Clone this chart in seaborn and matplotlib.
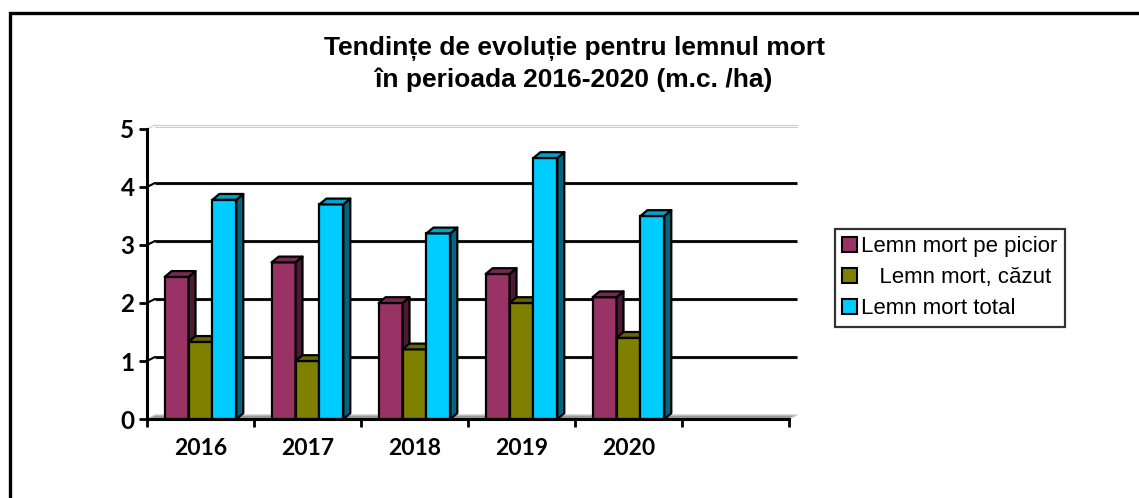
import numpy as np
import pandas as pd
import matplotlib
matplotlib.use("Agg")
import matplotlib.pyplot as plt
from matplotlib.patches import Polygon, Rectangle, Patch
import seaborn as sns

# ---- data ----
years = ["2016", "2017", "2018", "2019", "2020"]
series_names = ["Lemn mort pe picior", "   Lemn mort, căzut", "Lemn mort total"]
picior = [2.45, 2.7, 2.0, 2.5, 2.1]
cazut = [1.33, 1.0, 1.2, 2.0, 1.4]
total = [3.78, 3.7, 3.2, 4.5, 3.5]
yticks = [0, 1, 2, 3, 4, 5]
title = "Tendințe de evoluție pentru lemnul mort\nîn perioada 2016-2020 (m.c. /ha)"

front_colors = ["#993366", "#808000", "#00CCFF"]
top_colors = ["#7a2852", "#666600", "#00a3cc"]
side_colors = ["#4d1a33", "#404000", "#006680"]

df = pd.DataFrame({
    "year": years * 3,
    "series": sum([[s] * len(years) for s in series_names], []),
    "value": picior + cazut + total,
})

sns.set_style("white")
plt.rcParams["font.family"] = ["Liberation Sans", "DejaVu Sans"]
plt.rcParams["text.color"] = "black"
plt.rcParams["xtick.color"] = "black"
plt.rcParams["ytick.color"] = "black"
plt.rcParams["axes.labelcolor"] = "black"

W, H = 1139, 498
fig = plt.figure(figsize=(W / 100, H / 100), dpi=100)
ax = fig.add_axes([147 / W, 1 - 419 / H, (789 - 147) / W, (419 - 129) / H])

sns.barplot(data=df, x="year", y="value", hue="series", order=years,
            hue_order=series_names, palette=front_colors, width=0.67,
            edgecolor="black", linewidth=1.6, saturation=1, legend=False, ax=ax)

ax.set_xlim(-0.5, 5.5)
ax.set_ylim(0, 5)

# depth of 3D effect in data units
dx, dy = 0.065, 0.10
wdx, wdy = 0.075, 0.07

# 3D faces on bars
for i, cont in enumerate(ax.containers):
    z = 3 + i
    for bar in cont.patches:
        bar.set_zorder(z)
        x0 = bar.get_x()
        w = bar.get_width()
        h = bar.get_height()
        side = Polygon([(x0 + w, 0), (x0 + w + dx, dy), (x0 + w + dx, h + dy), (x0 + w, h)],
                       closed=True, facecolor=side_colors[i], edgecolor="black",
                       linewidth=1.6, zorder=z, joinstyle="round")
        top = Polygon([(x0, h), (x0 + dx, h + dy), (x0 + w + dx, h + dy), (x0 + w, h)],
                      closed=True, facecolor=top_colors[i], edgecolor="black",
                      linewidth=1.6, zorder=z, joinstyle="round")
        ax.add_patch(side)
        ax.add_patch(top)

# back wall gridlines
x_left, x_right = -0.5, 5.5
for v in yticks[1:-1]:
    ax.plot([x_left + wdx, x_right + wdx], [v + wdy, v + wdy], color="black",
            lw=2.0, zorder=1, clip_on=False, solid_capstyle="butt")
    ax.plot([x_left + wdx, x_right + wdx], [v + wdy - 0.025, v + wdy - 0.025], color="#bbbbbb",
            lw=1.0, zorder=0.9, clip_on=False, solid_capstyle="butt")
    ax.plot([x_left, x_left + wdx], [v, v + wdy], color="black", lw=1.5,
            zorder=1, clip_on=False)
# top edge of wall (light gray double line)
for off in (0.0, -0.035):
    ax.plot([x_left + wdx, x_right + wdx], [5 + wdy + off, 5 + wdy + off], color="#cccccc",
            lw=0.8, zorder=1, clip_on=False)
ax.plot([x_left, x_left + wdx], [5, 5 + wdy], color="#cccccc", lw=0.8, zorder=1, clip_on=False)

# floor
floor = Polygon([(x_left, 0), (x_left + wdx, wdy), (x_right + wdx, wdy), (x_right, 0)],
                closed=True, facecolor="#9a9a9a", edgecolor="#cfcfcf", linewidth=1.0,
                zorder=1.5, clip_on=False)
ax.add_patch(floor)

# axes styling
for s in ["top", "right"]:
    ax.spines[s].set_visible(False)
for s in ["left", "bottom"]:
    ax.spines[s].set_color("black")
    ax.spines[s].set_linewidth(2.2)
    ax.spines[s].set_zorder(10)

ax.set_yticks(yticks)
ax.set_yticklabels([str(v) for v in yticks])
ax.tick_params(axis="y", direction="out", length=6, width=2, color="black",
               labelsize=17.5, pad=3, left=True, labelcolor="black")
for lab in ax.get_yticklabels():
    lab.set_fontfamily(["Lato", "DejaVu Sans"])
    lab.set_fontweight("bold")

ax.set_xticks(np.arange(-0.5, 6.0, 1.0))
ax.set_xticklabels([])
ax.set_xticks(np.arange(len(years)), minor=True)
ax.set_xticklabels(years, minor=True)
ax.tick_params(axis="x", which="major", direction="out", length=6, width=2,
               color="black", bottom=True)
ax.tick_params(axis="x", which="minor", length=0, pad=14, labelsize=16.5, labelcolor="black")
for lab in ax.get_xticklabels(minor=True):
    lab.set_fontfamily(["Lato", "DejaVu Sans"])
    lab.set_fontweight("bold")

ax.set_xlabel("")
ax.set_ylabel("")
ax.grid(False)

# title
fig.text(574 / W, 1 - 64 / H, title, ha="center", va="center", fontsize=19,
         fontweight="bold", linespacing=1.3, color="black")

# legend
handles = [Patch(facecolor=c, edgecolor="black", linewidth=1.5) for c in front_colors]
leg = fig.legend(handles, series_names, loc="upper left",
                 bbox_to_anchor=(835 / W, 1 - 229 / H), bbox_transform=fig.transFigure,
                 frameon=True, fancybox=False, shadow=False, fontsize=16,
                 handlelength=0.65, handleheight=0.65, handletextpad=0.2,
                 labelspacing=0.45, borderpad=0.33, borderaxespad=0, edgecolor="black")
leg.get_frame().set_linewidth(1.6)
for t in leg.get_texts():
    t.set_color("black")

# outer frame
fig.patches.append(Rectangle((10 / W, -0.2), 1.5, 1 - 13 / H + 0.2, transform=fig.transFigure,
                             fill=False, edgecolor="black", linewidth=2.4, figure=fig))

fig.savefig("out.png", dpi=100, facecolor="white")
